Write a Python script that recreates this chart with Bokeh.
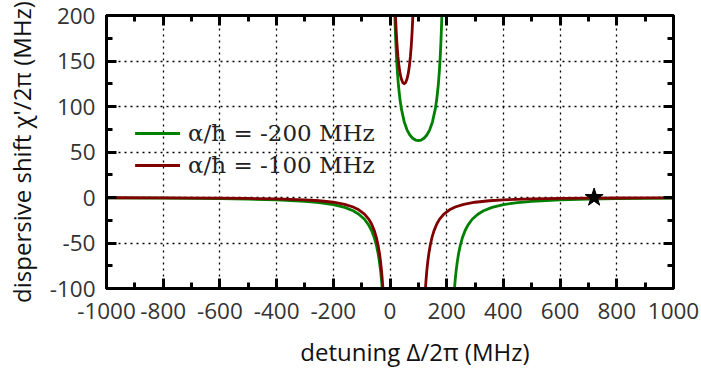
from bokeh.plotting import figure
from bokeh.models import FixedTicker, Legend, LegendItem, LinearAxis, Range1d, CustomJSTickFormatter
from bokeh.embed import file_html
from bokeh.resources import INLINE

# ---- data ----
x_ticks = [-1000, -800, -600, -400, -200, 0, 200, 400, 600, 800, 1000]
x_minor = [-900, -700, -500, -300, -100, 100, 300, 500, 700, 900]
y_ticks = [-100, -50, 0, 50, 100, 150, 200]
y_minor = [-75, -25, 25, 75, 125, 175]
x_tick_labels = ["-1000", "-800", "-600", "-400", "-200", "0", "200", "400", "600", "800", "1000"]
y_tick_labels = ["-100", "-50", "0", "50", "100", "150", "200"]

series_labels = ["α/ħ = -200 MHz", "α/ħ = -100 MHz"]
x_title = "detuning Δ/2π (MHz)"
y_title = "dispersive shift χ'/2π (MHz)"

green_left_x = [-1000, -800, -600, -500, -400, -300, -250, -200, -160, -130, -110, -90, -75, -65, -55, -48, -42, -37, -33, -30, -27.5, -26]
green_left_y = [-0.52, -0.78, -1.30, -1.79, -2.60, -4.17, -5.56, -7.81, -10.85, -14.57, -18.33, -23.95, -30.30, -36.28, -44.56, -52.50, -61.49, -71.27, -81.29, -90.58, -99.9, -106.4]
green_mid_x = [16, 18, 20, 23, 26, 30, 35, 40, 50, 60, 70, 80, 90, 100, 110, 120, 130, 140, 150, 160, 165, 170, 174, 177, 180, 182, 184]
green_mid_y = [212.3, 190.8, 173.6, 153.5, 138.2, 122.5, 108.2, 97.66, 83.33, 74.40, 68.68, 65.10, 63.13, 62.5, 63.13, 65.10, 68.68, 74.40, 83.33, 97.66, 108.2, 122.5, 138.2, 153.5, 173.6, 190.8, 212.3]
green_right_x = [226, 227.5, 230, 233, 237, 242, 248, 255, 265, 275, 290, 310, 330, 360, 400, 450, 500, 600, 700, 800, 900, 1000]
green_right_y = [-106.4, -99.9, -90.58, -81.29, -71.27, -61.49, -52.50, -44.56, -36.28, -30.30, -23.95, -18.33, -14.57, -10.85, -7.81, -5.56, -4.17, -2.60, -1.79, -1.30, -0.99, -0.78]

red_left_x = [-1000, -800, -600, -500, -400, -300, -250, -200, -160, -130, -110, -90, -75, -65, -55, -48, -42, -37, -33, -30, -28, -26, -25, -24]
red_left_y = [-0.28, -0.43, -0.74, -1.04, -1.56, -2.60, -3.57, -5.21, -7.51, -10.45, -13.53, -18.27, -23.81, -29.14, -36.66, -43.99, -52.40, -61.65, -71.20, -80.13, -87.19, -95.39, -100.0, -105.0]
red_mid_x = [18, 20, 22, 25, 28, 32, 36, 40, 45, 50, 55, 60, 64, 68, 72, 75, 78, 80, 82]
red_mid_y = [211.7, 195.3, 182.1, 166.7, 155.0, 143.6, 135.6, 130.2, 126.3, 125.0, 126.3, 130.2, 135.6, 143.6, 155.0, 166.7, 182.1, 195.3, 211.7]
red_right_x = [124, 125, 126, 128, 130, 133, 137, 142, 148, 155, 165, 175, 190, 210, 230, 260, 300, 350, 400, 500, 600, 700, 800, 900, 1000]
red_right_y = [-105.0, -100.0, -95.39, -87.19, -80.13, -71.20, -61.65, -52.40, -43.99, -36.66, -29.14, -23.81, -18.27, -13.53, -10.45, -7.51, -5.21, -3.57, -2.60, -1.56, -1.04, -0.74, -0.56, -0.43, -0.35]

star_x = [720]
star_y = [0]

GREEN = "#008000"
RED = "#800000"
TICK_FONT = "Open Sans"

p = figure(frame_width=567, frame_height=273,
           x_range=Range1d(-1000, 1000), y_range=Range1d(-100, 200),
           output_backend="svg", toolbar_location=None,
           min_border_left=106, min_border_right=28, min_border_top=15, min_border_bottom=84)
p.background_fill_color = "white"
p.border_fill_color = "white"
p.outline_line_color = "black"
p.outline_line_width = 3

xt = FixedTicker(ticks=x_ticks, minor_ticks=x_minor)
yt = FixedTicker(ticks=y_ticks, minor_ticks=y_minor)

bottom = p.below[0]
left = p.left[0]
bottom.ticker = xt
left.ticker = yt
bottom.major_label_overrides = {t: s for t, s in zip(x_ticks, x_tick_labels)}
left.major_label_overrides = {t: s for t, s in zip(y_ticks, y_tick_labels)}

blank = CustomJSTickFormatter(code="return ''")
top = LinearAxis(ticker=xt, formatter=blank, major_label_standoff=0, major_label_text_font_size="1px")
right = LinearAxis(ticker=yt, formatter=blank, major_label_standoff=0, major_label_text_font_size="1px")
p.add_layout(top, "above")
p.add_layout(right, "right")

for ax in [bottom, left, top, right]:
    ax.axis_line_color = "black"
    ax.axis_line_width = 3
    ax.major_tick_in = 10
    ax.major_tick_out = 0
    ax.minor_tick_in = 6
    ax.minor_tick_out = 0
    ax.major_tick_line_color = "black"
    ax.minor_tick_line_color = "black"
    ax.major_tick_line_width = 3
    ax.minor_tick_line_width = 3

for ax in [bottom, left]:
    ax.major_label_text_font = TICK_FONT
    ax.major_label_text_font_size = "22.5px"
    ax.major_label_text_color = "#333333"
    ax.axis_label_text_font = "Open Sans"
    ax.axis_label_text_font_size = "24px"
    ax.axis_label_text_font_style = "normal"
    ax.axis_label_text_color = "#111111"
bottom.major_label_standoff = 14
left.major_label_standoff = 11
NB = "\u00a0"
bottom.axis_label = NB * 8 + x_title
left.axis_label = y_title
bottom.axis_label_standoff = 13
left.axis_label_standoff = 9

p.xgrid.ticker = xt
p.ygrid.ticker = yt
for g in [p.xgrid[0], p.ygrid[0]]:
    g.grid_line_color = "black"
    g.grid_line_width = 1.3
    g.grid_line_dash = "2 4"

gl = [p.line(xs, ys, line_color=GREEN, line_width=2.8, line_join="round")
      for xs, ys in [(green_left_x, green_left_y), (green_mid_x, green_mid_y), (green_right_x, green_right_y)]]
rl = [p.line(xs, ys, line_color=RED, line_width=2.8, line_join="round")
      for xs, ys in [(red_left_x, red_left_y), (red_mid_x, red_mid_y), (red_right_x, red_right_y)]]

p.scatter(star_x, star_y, marker="star", size=19, fill_color="black", line_color="black")

legend = Legend(items=[LegendItem(label=series_labels[0], renderers=gl),
                       LegendItem(label=series_labels[1], renderers=rl)],
                location=(29, 109), orientation="vertical",
                label_text_font="DejaVu Serif", label_text_font_size="23px",
                label_text_color="#222222",
                glyph_width=45, glyph_height=28, label_height=28, label_standoff=8,
                spacing=4, padding=0, margin=0,
                border_line_color=None, background_fill_alpha=0)
p.add_layout(legend, "center")

open("out.html", "w").write(file_html(p, INLINE))
